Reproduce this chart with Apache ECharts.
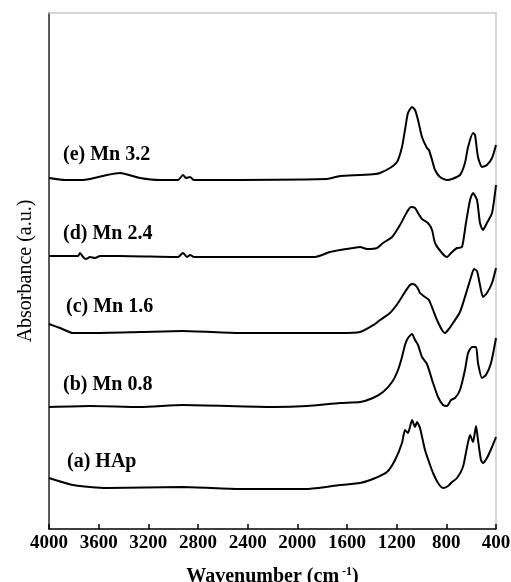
<!DOCTYPE html>
<html><head><meta charset="utf-8">
<script src="https://cdn.jsdelivr.net/npm/echarts@6/dist/echarts.min.js"></script>
<style>html,body{margin:0;padding:0;background:#fff}#c{width:511px;height:582px}</style>
</head><body><div id="c"></div>
<script>
// wavenumber (cm^-1), absorbance (a.u., offset stacked)
const seriesNames = ['(e) Mn 3.2', '(d) Mn 2.4', '(c) Mn 1.6', '(b) Mn 0.8', '(a) HAp'];
const xTicks = [4000, 3600, 3200, 2800, 2400, 2000, 1600, 1200, 800, 400];

const specE = [[4000,3.51],[3871,3.49],[3734,3.49],[3670,3.50],[3533,3.54],[3428,3.56],[3267,3.51],[3106,3.49],[2961,3.49],[2921,3.54],[2897,3.51],[2864,3.52],[2832,3.49],[1761,3.50],[1656,3.53],[1495,3.54],[1374,3.55],[1334,3.56],[1254,3.61],[1197,3.67],[1157,3.82],[1133,3.99],[1109,4.16],[1076,4.22],[1052,4.19],[1028,4.09],[996,3.92],[956,3.81],[940,3.79],[915,3.69],[891,3.59],[851,3.52],[795,3.49],[754,3.50],[690,3.54],[650,3.66],[625,3.82],[585,3.96],[569,3.94],[545,3.72],[513,3.62],[473,3.64],[432,3.71],[400,3.84]];

const specD = [[4000,2.73],[3831,2.73],[3766,2.73],[3750,2.76],[3726,2.72],[3702,2.70],[3670,2.72],[3630,2.71],[3589,2.73],[3428,2.73],[2961,2.72],[2921,2.76],[2889,2.72],[2864,2.74],[2832,2.72],[1858,2.72],[1737,2.77],[1656,2.79],[1552,2.81],[1495,2.82],[1439,2.80],[1358,2.81],[1310,2.86],[1237,2.92],[1173,3.04],[1117,3.17],[1084,3.22],[1052,3.21],[1028,3.16],[996,3.10],[948,3.06],[915,2.99],[891,2.86],[835,2.76],[795,2.72],[762,2.76],[714,2.81],[674,2.82],[642,3.06],[609,3.29],[585,3.36],[553,3.29],[529,3.06],[505,2.99],[473,3.06],[432,3.16],[400,3.44]];

const specC = [[4000,2.05],[3911,2.01],[3807,1.96],[3670,1.96],[3267,1.97],[2921,1.98],[2462,1.96],[1656,1.96],[1495,1.97],[1374,2.05],[1334,2.09],[1254,2.16],[1189,2.26],[1133,2.37],[1093,2.44],[1068,2.45],[1036,2.42],[1012,2.36],[972,2.32],[940,2.29],[907,2.19],[875,2.09],[835,1.99],[811,1.96],[786,1.99],[746,2.06],[690,2.17],[633,2.39],[601,2.52],[577,2.60],[553,2.58],[529,2.44],[505,2.32],[473,2.36],[432,2.46],[400,2.61]];

const specB = [[4000,1.22],[3670,1.23],[3267,1.22],[2921,1.24],[2196,1.22],[1922,1.23],[1656,1.26],[1495,1.27],[1391,1.31],[1310,1.37],[1237,1.47],[1189,1.59],[1157,1.72],[1133,1.84],[1109,1.91],[1076,1.95],[1052,1.89],[1028,1.84],[996,1.72],[956,1.65],[907,1.46],[867,1.32],[827,1.24],[795,1.23],[762,1.29],[730,1.31],[690,1.39],[650,1.59],[625,1.76],[593,1.82],[561,1.82],[545,1.66],[513,1.51],[481,1.54],[440,1.66],[400,1.91]];

const specA = [[4000,0.51],[3807,0.44],[3533,0.41],[2921,0.42],[2462,0.40],[1922,0.40],[1656,0.44],[1495,0.46],[1391,0.50],[1278,0.57],[1213,0.69],[1157,0.86],[1133,0.99],[1109,0.96],[1076,1.09],[1052,1.02],[1036,1.07],[1012,1.01],[972,0.79],[931,0.64],[907,0.56],[867,0.46],[827,0.41],[786,0.43],[754,0.47],[714,0.51],[666,0.62],[633,0.82],[609,0.94],[585,0.87],[561,1.03],[545,0.89],[521,0.69],[505,0.66],[473,0.71],[432,0.82],[400,0.92]];

const spectra = [specE, specD, specC, specB, specA];
const labelY = [155, 234, 307, 385, 462];
const labelX = [63, 63, 66, 63, 67];

const serif = '"Liberation Serif","Times New Roman",serif';
const chart = echarts.init(document.getElementById('c'), null, {renderer: 'canvas'});

chart.setOption({
  animation: false,
  backgroundColor: '#fff',
  grid: {left: 49, right: 15, top: 13, bottom: 53, containLabel: false, outerBoundsMode: 'none'},
  xAxis: [{
    type: 'value', inverse: true, min: 400, max: 4000, interval: 400,
    axisLine: {show: true, onZero: false, lineStyle: {color: '#000', width: 1.5}},
    axisTick: {show: true, inside: true, length: 5, lineStyle: {color: '#000', width: 1.5}},
    axisLabel: {color: '#000', fontFamily: serif, fontWeight: 'bold', fontSize: 19, margin: 5,
      formatter: v => xTicks.includes(v) ? String(v) : ''},
    splitLine: {show: false},
    name: 'Wavenumber (cm{sup|-1})', nameLocation: 'middle', nameGap: 37,
    nameTextStyle: {color: '#000', fontFamily: serif, fontWeight: 'bold', fontSize: 20,
      rich: {sup: {fontFamily: serif, fontWeight: 'bold', fontSize: 12, verticalAlign: 'top', padding: [0, 0, 10, 3]}}}
  }, {
    type: 'value', position: 'top', inverse: true, min: 400, max: 4000,
    axisLine: {show: true, onZero: false, lineStyle: {color: '#c8c8c8', width: 1.5}},
    axisTick: {show: false}, axisLabel: {show: false}, splitLine: {show: false}
  }],
  yAxis: [{
    type: 'value', min: 0, max: 5.16,
    axisLine: {show: true, onZero: false, lineStyle: {color: '#222', width: 1.5}},
    axisTick: {show: false}, axisLabel: {show: false}, splitLine: {show: false},
    name: 'Absorbance (a.u.)', nameLocation: 'middle', nameGap: 13,
    nameTextStyle: {color: '#000', fontFamily: serif, fontSize: 20}
  }, {
    type: 'value', position: 'right', min: 0, max: 5.16,
    axisLine: {show: true, onZero: false, lineStyle: {color: '#c8c8c8', width: 1.5}},
    axisTick: {show: false}, axisLabel: {show: false}, splitLine: {show: false}
  }],
  series: spectra.map((d, i) => ({
    name: seriesNames[i], type: 'line', data: d, xAxisIndex: 0, yAxisIndex: 0,
    showSymbol: false, smooth: 0.2,
    lineStyle: {color: '#000', width: 2}
  })),
  graphic: seriesNames.map((t, i) => ({
    type: 'text', x: labelX[i], y: labelY[i],
    style: {text: t, fill: '#000', font: 'bold 20px ' + serif, verticalAlign: 'middle', align: 'left'}
  }))
});
</script></body></html>
